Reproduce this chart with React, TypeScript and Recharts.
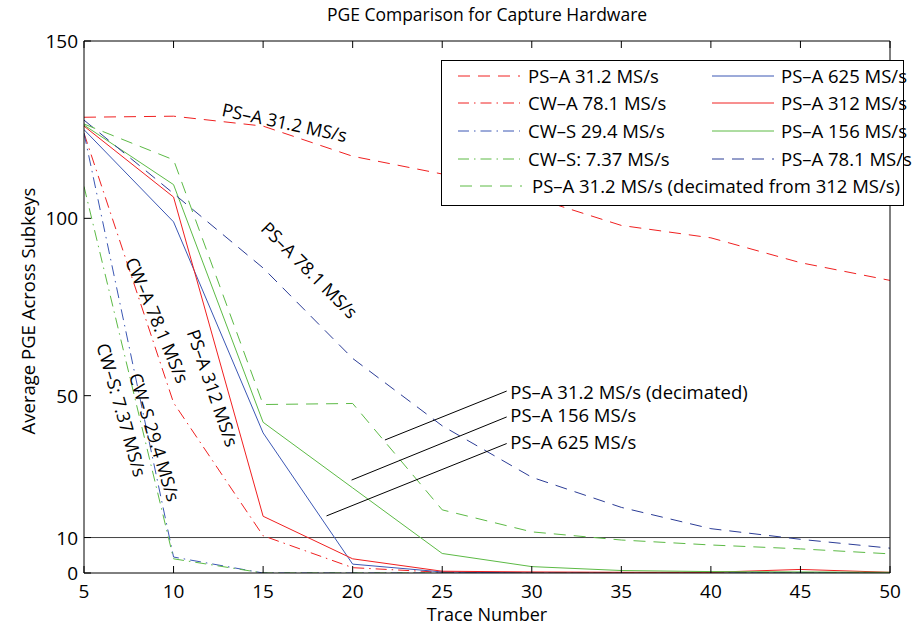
import {
  LineChart,
  Line,
  XAxis,
  YAxis,
  ReferenceLine,
  ReferenceDot,
} from "recharts";

const traces = [5, 10, 15, 20, 25, 30, 35, 40, 45, 50];

// PGE values per trace count
const psA31 = [128.5, 128.8, 126, 117.5, 112.5, 106, 98, 94.5, 87.5, 82.5];
const cwA78 = [124, 48, 10.5, 1.5, 0.2, 0, 0, 0, 0, 0];
const cwS29 = [124, 4.5, 0, 0, 0, 0, 0, 0, 0, 0];
const cwS7 = [109, 4, 0, 0, 0, 0, 0, 0, 0, 0];
const psA625 = [125, 99, 39.5, 2.5, 0.3, 0, 0, 0, 0, 0];
const psA312 = [126, 106, 16, 4, 0.5, 0.3, 0.2, 0.2, 1, 0.2];
const psA156 = [126.3, 109.5, 42.5, 24, 5.5, 1.8, 0.7, 0.4, 0.3, 0.2];
const psA78 = [127.7, 107, 86, 60.5, 41.5, 27, 18.5, 12.5, 9.5, 7];
const psA31dec = [126.6, 116.5, 47.5, 47.8, 17.8, 11.6, 9.3, 7.9, 6.8, 5.4];

const xTicks = [5, 10, 15, 20, 25, 30, 35, 40, 45, 50];
const yTicks = [0, 10, 50, 100, 150];

const RED = "#f02020";
const BLUE = "#3b57b4";
const GREEN = "#5cba45";
const NAVY = "#2b3c96";
const DASH = "12 8";
const DASHDOT = "11 5 1.5 5";
const FONT = "'Open Sans', 'Noto Sans', sans-serif";

const data = traces.map((t, i) => ({
  trace: t,
  psA31: psA31[i],
  cwA78: cwA78[i],
  cwS29: cwS29[i],
  cwS7: cwS7[i],
  psA625: psA625[i],
  psA312: psA312[i],
  psA156: psA156[i],
  psA78: psA78[i],
  psA31dec: psA31dec[i],
}));

interface SeriesDef {
  key: string;
  name: string;
  color: string;
  dash?: string;
}

const series: SeriesDef[] = [
  { key: "psA31", name: "PS–A 31.2 MS/s", color: RED, dash: DASH },
  { key: "cwA78", name: "CW–A 78.1 MS/s", color: RED, dash: DASHDOT },
  { key: "cwS29", name: "CW–S 29.4 MS/s", color: BLUE, dash: DASHDOT },
  { key: "cwS7", name: "CW–S: 7.37 MS/s", color: GREEN, dash: DASHDOT },
  { key: "psA625", name: "PS–A 625 MS/s", color: BLUE },
  { key: "psA312", name: "PS–A 312 MS/s", color: RED },
  { key: "psA156", name: "PS–A 156 MS/s", color: GREEN },
  { key: "psA78", name: "PS–A 78.1 MS/s", color: NAVY, dash: DASH },
  { key: "psA31dec", name: "PS–A 31.2 MS/s (decimated from 312 MS/s)", color: GREEN, dash: DASH },
];

// rotated in-plot labels: [text, x, y, angle]
const lineLabels: [string, number, number, number][] = [
  ["PS–A 31.2 MS/s", 16.2, 127.1, 12],
  ["PS–A 78.1 MS/s", 17.6, 85.5, 45],
  ["CW–A 78.1 MS/s", 9.1, 71.3, 67],
  ["PS–A 312 MS/s", 12.2, 52.2, 71],
  ["CW–S 29.4 MS/s", 8.96, 38.3, 73],
  ["CW–S: 7.37 MS/s", 7.12, 46, 74],
];

// callouts: text, anchor point, line start
const callouts = [
  { text: "PS–A 31.2 MS/s (decimated)", tx: 28.8, ty: 51, from: { x: 21.8, y: 37.5 }, to: { x: 28.6, y: 51.3 } },
  { text: "PS–A 156 MS/s", tx: 28.8, ty: 44.3, from: { x: 19.94, y: 26.2 }, to: { x: 28.6, y: 44 } },
  { text: "PS–A 625 MS/s", tx: 28.8, ty: 36.7, from: { x: 18.54, y: 16.1 }, to: { x: 28.6, y: 36.5 } },
];

function BottomTick({ x, y, payload }: any) {
  return (
    <g>
      <line x1={x} x2={x} y1={y} y2={y - 7} stroke="#000" />
      <text x={x} y={y + 25} textAnchor="middle" fontSize={19} fontFamily={FONT} fill="#000">
        {payload.value}
      </text>
    </g>
  );
}

function TopTick({ x, y }: any) {
  return <line x1={x} x2={x} y1={y} y2={y + 7} stroke="#000" />;
}

function LeftTick({ x, y, payload }: any) {
  return (
    <g>
      <line x1={x} x2={x + 7} y1={y} y2={y} stroke="#000" />
      <text x={x - 6} y={y + 7} textAnchor="end" fontSize={19} fontFamily={FONT} fill="#000">
        {payload.value}
      </text>
    </g>
  );
}

function RightTick({ x, y }: any) {
  return <line x1={x} x2={x - 7} y1={y} y2={y} stroke="#000" />;
}

function LegendBox() {
  const rowY = [76, 103, 131, 159, 186];
  const left = series.slice(0, 4);
  const right = series.slice(4, 8);
  const last = series[8];
  const item = (s: SeriesDef, lx: number, tx: number, y: number) => (
    <g key={s.key}>
      <line x1={lx} x2={lx + 62} y1={y} y2={y} stroke={s.color} strokeDasharray={s.dash} />
      <text x={tx} y={y + 6.5} fontSize={18.5} fontFamily={FONT} fill="#000">
        {s.name}
      </text>
    </g>
  );
  return (
    <svg
      width={920}
      height={629}
      style={{ position: "absolute", left: 0, top: 0, pointerEvents: "none" }}
    >
      <rect x={441.5} y={60.5} width={462} height={145} fill="#fff" stroke="#000" />
      {left.map((s, i) => item(s, 458, 528, rowY[i]))}
      {right.map((s, i) => item(s, 712, 781, rowY[i]))}
      {item(last, 460, 532, rowY[4])}
    </svg>
  );
}

export default function App() {
  return (
    <div style={{ position: "absolute", left: 0, top: 0, width: 920, height: 629, background: "#fff" }}>
      <LineChart
        width={920}
        height={629}
        data={data}
        margin={{ top: 40, right: 29, bottom: 0, left: 0 }}
      >
        <XAxis
          dataKey="trace"
          type="number"
          domain={[5, 50]}
          ticks={xTicks}
          tick={<BottomTick />}
          tickLine={false}
          tickSize={0}
          tickMargin={0}
          height={56}
          axisLine={{ stroke: "#000" }}
          allowDataOverflow
        />
        <XAxis
          xAxisId="top"
          orientation="top"
          dataKey="trace"
          type="number"
          domain={[5, 50]}
          ticks={xTicks}
          tick={<TopTick />}
          tickLine={false}
          tickSize={0}
          tickMargin={0}
          height={1}
          axisLine={{ stroke: "#000" }}
        />
        <YAxis
          type="number"
          domain={[0, 150]}
          ticks={yTicks}
          tick={<LeftTick />}
          tickLine={false}
          tickSize={0}
          tickMargin={0}
          width={84}
          axisLine={{ stroke: "#000" }}
          allowDataOverflow
        />
        <YAxis
          yAxisId="right"
          orientation="right"
          type="number"
          domain={[0, 150]}
          ticks={yTicks}
          tick={<RightTick />}
          tickLine={false}
          tickSize={0}
          tickMargin={0}
          width={1}
          axisLine={{ stroke: "#000" }}
        />
        <ReferenceLine y={10} stroke="#444" strokeWidth={1} />
        {series.map((s) => (
          <Line
            key={s.key}
            dataKey={s.key}
            name={s.name}
            stroke={s.color}
            strokeWidth={1}
            strokeDasharray={s.dash}
            dot={false}
            activeDot={false}
            type="linear"
            isAnimationActive={false}
          />
        ))}
        {callouts.map((c) => (
          <ReferenceLine key={c.text} segment={[c.from, c.to]} stroke="#000" strokeWidth={1} />
        ))}
        {callouts.map((c) => (
          <ReferenceDot
            key={c.text + "-t"}
            x={c.tx}
            y={c.ty}
            r={0}
            shape={(p: any) => (
              <text x={p.cx} y={p.cy + 6.5} fontSize={18.5} fontFamily={FONT} fill="#000">
                {c.text}
              </text>
            )}
          />
        ))}
        {lineLabels.map(([label, x, y, angle]) => (
          <ReferenceDot
            key={label}
            x={x}
            y={y}
            r={0}
            shape={(p: any) => (
              <text
                x={p.cx}
                y={p.cy}
                textAnchor="middle"
                dominantBaseline="central"
                fontSize={18}
                fontFamily={FONT}
                fill="#000"
                transform={`rotate(${angle} ${p.cx} ${p.cy})`}
              >
                {label}
              </text>
            )}
          />
        ))}
      </LineChart>
      <LegendBox />
      <div
        style={{
          position: "absolute",
          left: 84,
          width: 806,
          top: 2,
          textAlign: "center",
          fontFamily: FONT,
          fontSize: 17.5,
          color: "#000",
        }}
      >
        PGE Comparison for Capture Hardware
      </div>
      <div
        style={{
          position: "absolute",
          left: 84,
          width: 806,
          top: 602,
          textAlign: "center",
          fontFamily: FONT,
          fontSize: 18,
          color: "#000",
        }}
      >
        Trace Number
      </div>
      <div
        style={{
          position: "absolute",
          left: 27,
          top: 311,
          transform: "translate(-50%, -50%) rotate(-90deg)",
          whiteSpace: "nowrap",
          fontFamily: FONT,
          fontSize: 18.5,
          color: "#000",
        }}
      >
        Average PGE Across Subkeys
      </div>
    </div>
  );
}
